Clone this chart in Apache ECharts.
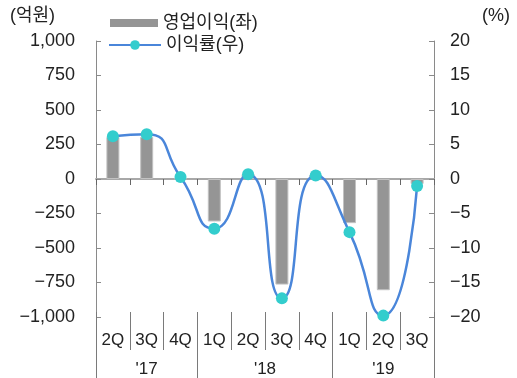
<!DOCTYPE html>
<html>
<head>
<meta charset="utf-8">
<style>
  html, body { margin: 0; padding: 0; background: #ffffff; }
  #chart { width: 517px; height: 378px; }
</style>
<script src="https://cdn.jsdelivr.net/npm/echarts@6/dist/echarts.min.js"></script>
</head>
<body>
<div id="chart"></div>
<script>
// Quarterly operating profit (bars, left axis) and margin (line, right axis)
const quarters = ['2Q', '3Q', '4Q', '1Q', '2Q', '3Q', '4Q', '1Q', '2Q', '3Q'];
const years    = ["'17", "'17", "'17", "'18", "'18", "'18", "'18", "'19", "'19", "'19"];
const operatingProfit = [305, 305, 4, -308, 36, -765, 29, -320, -806, -36];   // 억원
const profitMargin    = [6.2, 6.5, 0.3, -7.2, 0.7, -17.3, 0.5, -7.7, -19.8, -1.0]; // %

const profitName = '영업이익(좌)';
const marginName = '이익률(우)';

const FONT = "'Liberation Sans', 'Noto Sans CJK KR', sans-serif";
const TEXT = '#222222';
const AXIS = '#8a8a8a';

// Year groups: boundaries and centres in quarter units along the axis
const yearBounds = [0];
const yearCentres = [];
const yearLabels = [];
let start = 0;
for (let i = 1; i <= years.length; i++) {
  if (i === years.length || years[i] !== years[start]) {
    yearBounds.push(i);
    yearCentres.push((start + i) / 2);
    yearLabels.push(years[start]);
    start = i;
  }
}

function fmtNumber(v) {
  const s = Math.abs(v).toLocaleString('en-US');
  return v < 0 ? '\u2212' + s : s;
}

const chart = echarts.init(document.getElementById('chart'), null, { renderer: 'canvas' });

chart.setOption({
  animation: false,
  textStyle: { fontFamily: FONT, color: TEXT },
  grid: { left: 96, right: 83, top: 41, bottom: 61, containLabel: false },
  legend: [
    {
      data: [{ name: profitName, itemStyle: { color: '#959595', borderWidth: 0 } }],
      left: 110, top: 13, padding: 0,
      icon: 'rect', itemWidth: 48, itemHeight: 8, itemGap: 0,
      textStyle: { fontSize: 18, color: TEXT, fontFamily: FONT, lineHeight: 20 }
    },
    {
      data: [marginName],
      left: 108, top: 35, padding: 0,
      itemWidth: 52, itemHeight: 12, itemGap: 0,
      textStyle: { fontSize: 18, color: TEXT, fontFamily: FONT, lineHeight: 20 }
    }
  ],
  xAxis: [
    {
      // zero line with separators between quarters
      type: 'category',
      data: quarters,
      position: 'bottom',
      boundaryGap: true,
      axisLine: { show: true, onZero: true, lineStyle: { color: '#a8a8a8', width: 2 } },
      axisTick: { show: true, length: 6, lineStyle: { color: '#666666', width: 1 } },
      axisLabel: { show: false },
      splitLine: { show: false }
    },
    {
      // quarter labels row
      type: 'category',
      data: quarters,
      position: 'bottom',
      offset: -5,
      boundaryGap: true,
      axisLine: { show: false, onZero: false },
      axisTick: { show: true, length: 38, lineStyle: { color: '#7a7a7a', width: 1 } },
      axisLabel: { show: true, margin: 20, fontSize: 17, color: TEXT, fontFamily: FONT },
      splitLine: { show: false }
    },
    {
      // year labels row
      type: 'value',
      min: 0,
      max: quarters.length,
      position: 'bottom',
      offset: -5,
      axisLine: { show: false, onZero: false },
      axisTick: { show: true, length: 66, customValues: yearBounds, lineStyle: { color: '#7a7a7a', width: 1 } },
      axisLabel: {
        show: true, margin: 49, fontSize: 17, color: TEXT, fontFamily: FONT,
        customValues: yearCentres,
        formatter: function (v) {
          const k = yearCentres.indexOf(v);
          return k >= 0 ? yearLabels[k] : '';
        }
      },
      splitLine: { show: false }
    }
  ],
  yAxis: [
    {
      type: 'value',
      min: -1000, max: 1000, interval: 250,
      name: '(억원)',
      nameLocation: 'end',
      nameGap: 16,
      nameTextStyle: { fontSize: 18, color: TEXT, fontFamily: FONT, align: 'right', padding: [0, 41, 0, 0] },
      axisLine: { show: true, lineStyle: { color: AXIS, width: 1 } },
      axisTick: { show: true, inside: true, length: 5, lineStyle: { color: AXIS } },
      axisLabel: { margin: 21, fontSize: 18, color: TEXT, fontFamily: FONT, formatter: fmtNumber },
      splitLine: { show: false }
    },
    {
      type: 'value',
      position: 'right',
      min: -20, max: 20, interval: 5,
      name: '(%)',
      nameLocation: 'end',
      nameGap: 16,
      nameTextStyle: { fontSize: 18, color: TEXT, fontFamily: FONT, align: 'left', padding: [0, 0, 0, 48] },
      axisLine: { show: true, lineStyle: { color: AXIS, width: 1 } },
      axisTick: { show: true, inside: true, length: 5, lineStyle: { color: AXIS } },
      axisLabel: { margin: 16, fontSize: 18, color: TEXT, fontFamily: FONT, formatter: fmtNumber },
      splitLine: { show: false }
    }
  ],
  series: [
    {
      name: profitName,
      type: 'bar',
      xAxisIndex: 0,
      yAxisIndex: 0,
      data: operatingProfit,
      barWidth: 13,
      itemStyle: { color: '#959595', borderColor: '#c2c2c2', borderWidth: 1 },
      z: 2
    },
    {
      name: marginName,
      type: 'line',
      xAxisIndex: 0,
      yAxisIndex: 1,
      data: profitMargin,
      smooth: 0.6,
      symbol: 'circle',
      symbolSize: 12,
      lineStyle: { color: '#4a86da', width: 2.5 },
      itemStyle: { color: '#33cdcd' },
      z: 3
    }
  ]
});
</script>
</body>
</html>
